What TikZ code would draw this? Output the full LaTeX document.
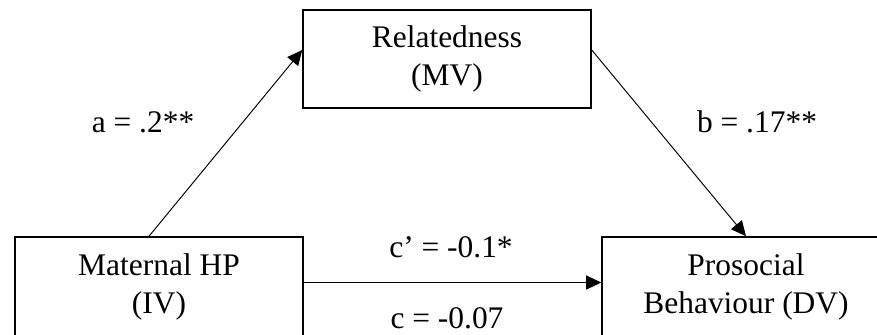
\documentclass[tikz,border=0pt]{standalone}
\usepackage{fontspec}
\setmainfont{Liberation Serif}
\usetikzlibrary{arrows.meta, positioning}

\tikzset{
  varbox/.style={draw, line width=0.9pt, minimum width=5.76cm, minimum height=1.96cm, align=center, inner sep=0pt},
  path/.style={line width=0.55pt, -{Triangle[length=0.3cm, width=0.28cm]}},
  coef/.style={anchor=base, inner sep=0pt}
}

\begin{document}
\begin{tikzpicture}[x=0.02cm, y=-0.02cm, font=\fontsize{17.9pt}{21.3pt}\selectfont]
            \useasboundingbox (0,0) rectangle (877,335);
            \clip (0,0) rectangle (877,335);
            % variables
            \node[varbox] (mv) at (447,59) {Relatedness\\(MV)};
            \node[varbox, minimum height=2cm] (iv) at (159,287) {Maternal HP\\(IV)};
            \node[varbox, minimum height=2cm] (dv) at (746,287) {Prosocial\\Behaviour (DV)};
            % paths
            \draw[path] ([xshift=-0.2cm]iv.north) -- ([yshift=0.18cm]mv.west);
            \draw[path] ([yshift=0.18cm]mv.east) -- (dv.north);
            \draw[path] ([yshift=0.09cm]iv.east) -- ([yshift=0.09cm]dv.west);
            % coefficients
            \node[coef] (ca) at (143,132) {a = .2**};
            \node[coef] (cb) at (757,132) {b = .17**};
            \node[coef] (cdirect) at (451,257) {c’ = -0.1*};
            \node[coef] (ctotal) at (447,328) {c = -0.07};
        \end{tikzpicture}
\end{document}
